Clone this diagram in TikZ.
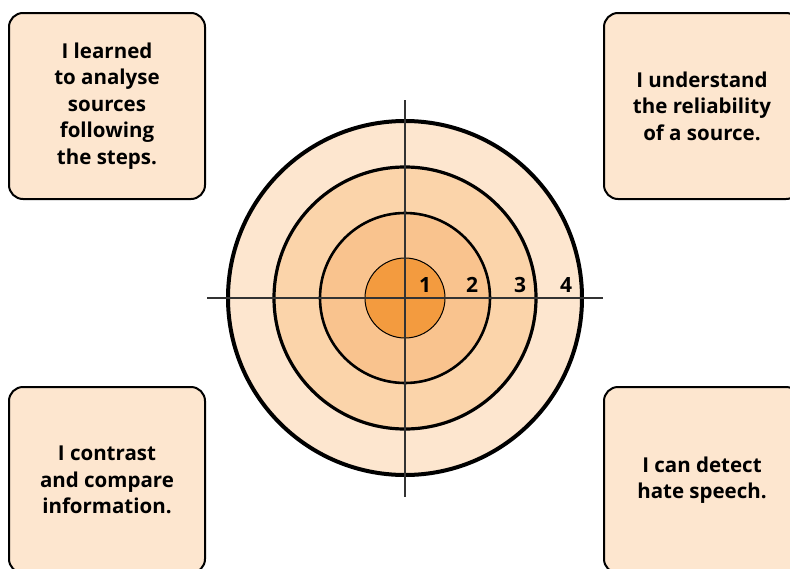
\documentclass[tikz,border=0pt]{standalone}
\usepackage{fontspec}
\setmainfont{Open Sans}
\usetikzlibrary{positioning}
\definecolor{ringA}{HTML}{F39B3F}
\definecolor{ringB}{HTML}{F9C38E}
\definecolor{ringC}{HTML}{FBD4AA}
\definecolor{ringD}{HTML}{FDE6CF}
\definecolor{crossgray}{HTML}{333333}
\begin{document}
\begin{tikzpicture}[x=1pt,y=-1pt,
  goalbox/.style={draw,line width=2pt,fill=ringD,rounded corners=14pt,
        minimum width=196pt,minimum height=186pt,align=center,
        font=\fontsize{20.5}{26.5}\selectfont\bfseries},
  ringnum/.style={font=\fontsize{21}{24}\selectfont\bfseries,inner sep=0pt}]
  \useasboundingbox (0,0) rectangle (790,568);
  \clip (0,0) rectangle (790,568);
  %% Goal boxes
  \node[goalbox] (steps)   at (107,106) {I learned\\to analyse\\sources\\following\\the steps.};
  \node[goalbox] (reliab)  at (702,106) {I understand\\the reliability\\of a source.};
  \node[goalbox] (compare) at (107,480) {I contrast\\and compare\\information.};
  \node[goalbox] (hate)    at (702,480) {I can detect\\hate speech.};
  %% Target rings
  \coordinate (centre) at (405,298);
  \filldraw[fill=ringD,line width=4pt]   (centre) circle (177pt);
  \filldraw[fill=ringC,line width=3.2pt] (centre) circle (131pt);
  \filldraw[fill=ringB,line width=2.6pt] (centre) circle (85pt);
  \filldraw[fill=ringA,line width=1pt]   (centre) circle (40pt);
  %% Cross hair
  \coordinate (west)  at (207,298);
  \coordinate (east)  at (603,298);
  \coordinate (north) at (405,100);
  \coordinate (south) at (405,497);
  \draw[crossgray,line width=1.2pt] (west) -- (east);
  \draw[crossgray,line width=1.2pt] (north) -- (south);
  %% Ring numbers
  \node[ringnum] (num1) at (425,285) {1};
  \node[ringnum] (num2) at (472,285) {2};
  \node[ringnum] (num3) at (520,285) {3};
  \node[ringnum] (num4) at (566,285) {4};
\end{tikzpicture}
\end{document}
